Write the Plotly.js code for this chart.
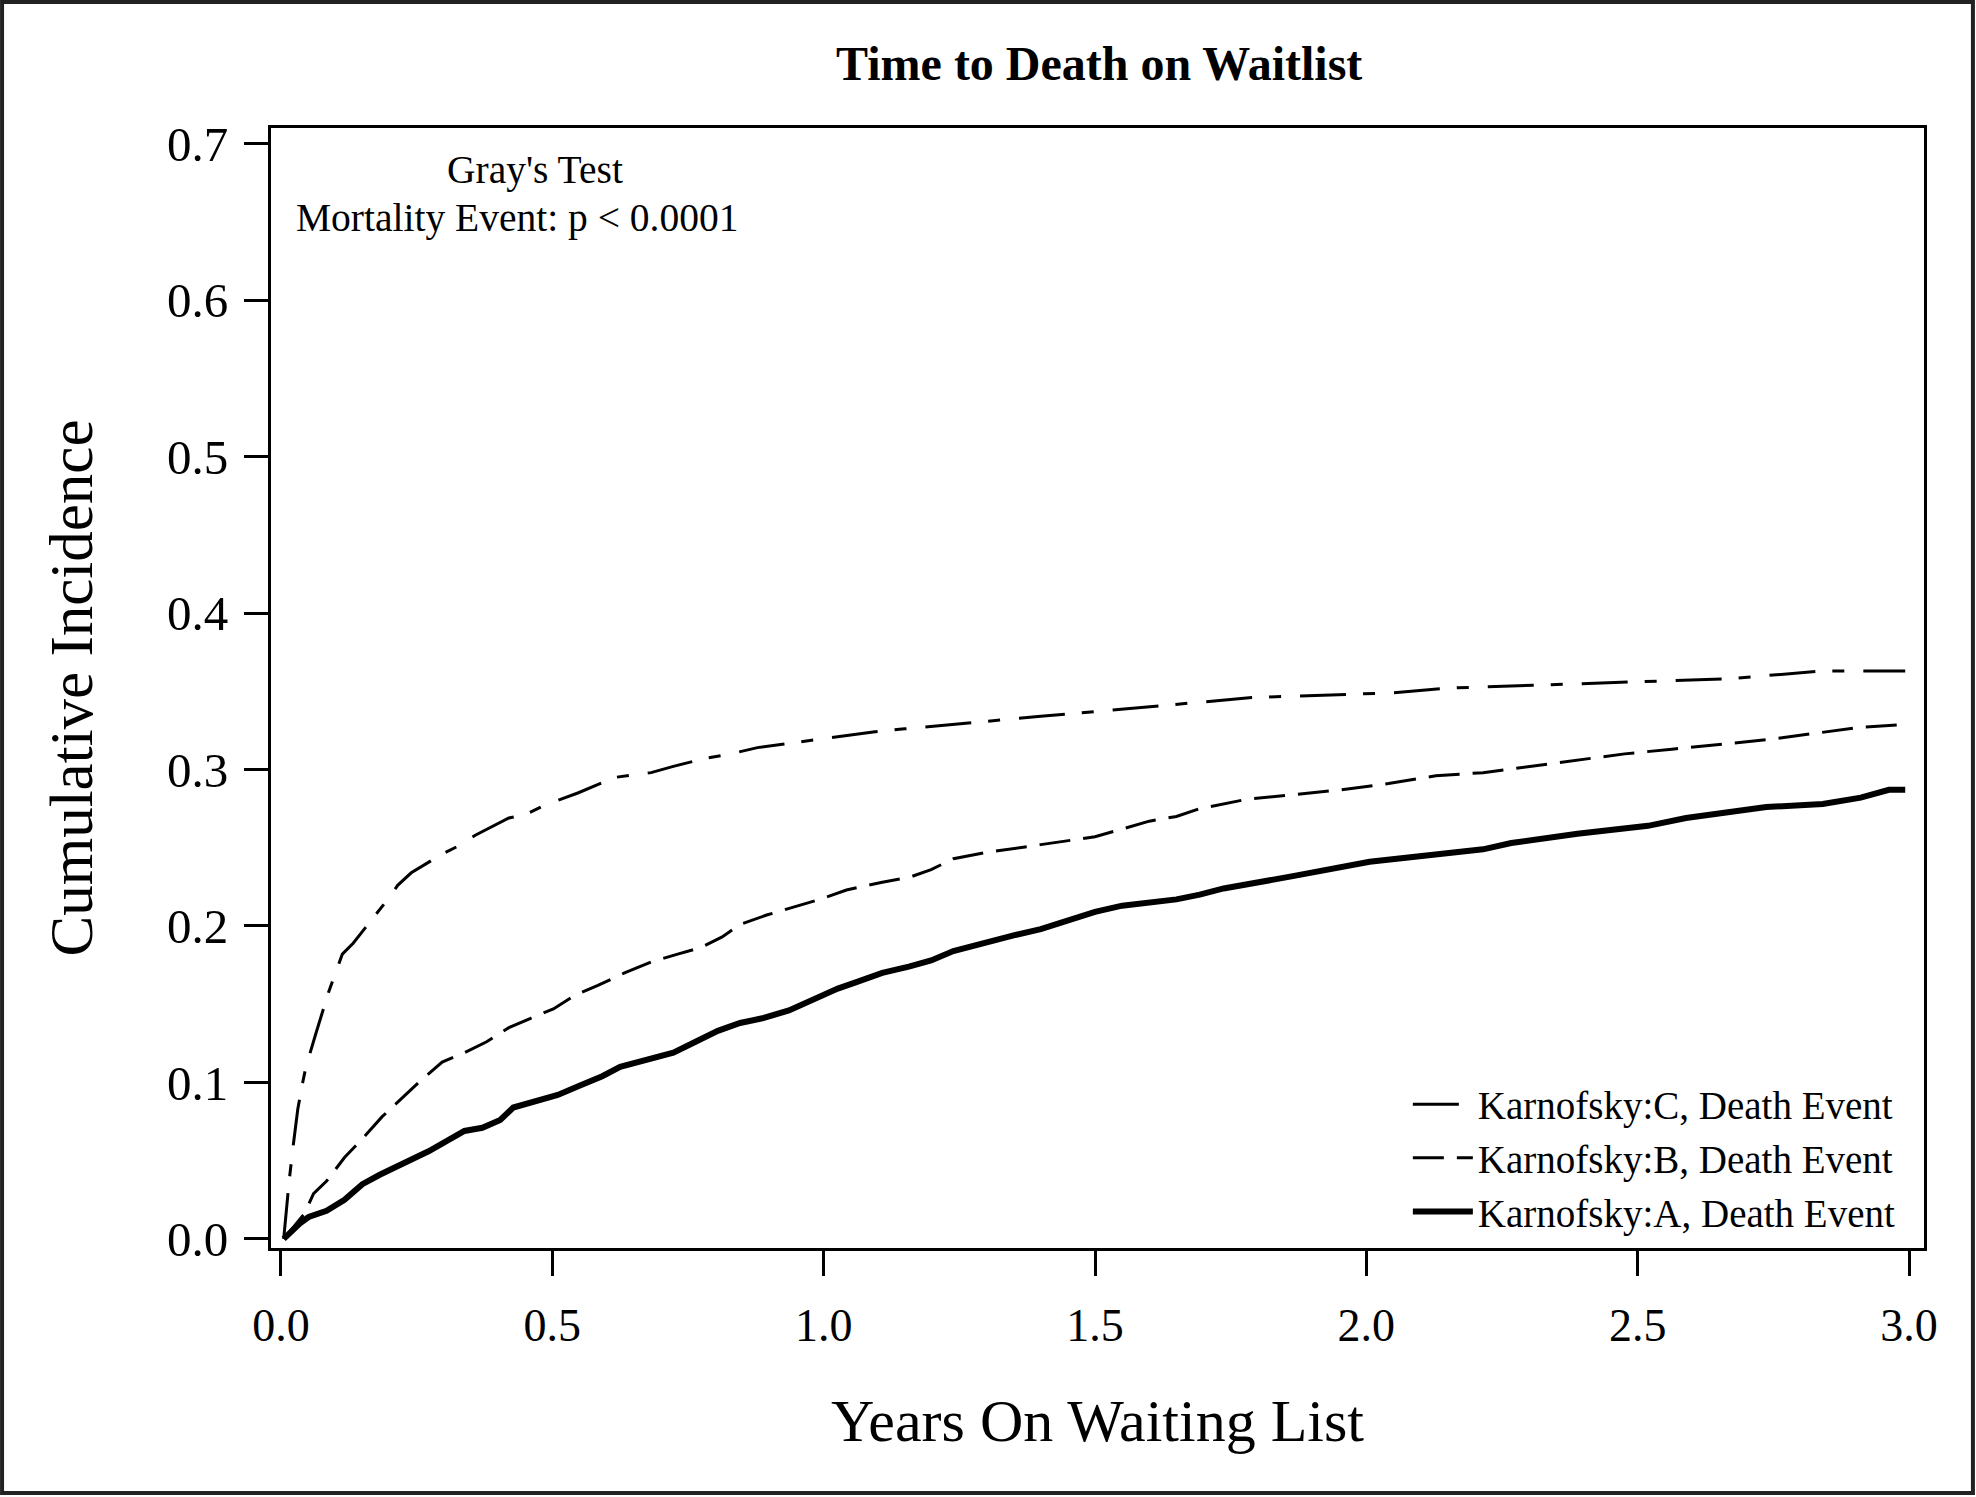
<!DOCTYPE html>
<html>
<head>
<meta charset="utf-8">
<script src="https://cdn.plot.ly/plotly-3.0.1.min.js"></script>
<style>
  body { margin: 0; background: #fff; overflow: hidden; }
  #plot { width: 1976px; height: 1497px; }
</style>
</head>
<body>
<div id="plot"></div>
<script>
// Karnofsky C (dash-dot curve)
var yearsC = [0.005, 0.015, 0.023, 0.031, 0.040, 0.046, 0.064, 0.078, 0.088, 0.113, 0.133, 0.158, 0.199, 0.215, 0.240,
  0.297, 0.326, 0.358, 0.420, 0.449, 0.485, 0.547, 0.580, 0.616, 0.682, 0.723, 0.780, 0.829, 0.878, 0.944, 0.985,
  1.026, 1.091, 1.149, 1.239, 1.30, 1.40, 1.50, 1.60, 1.693, 1.789, 1.963, 2.050, 2.146, 2.302, 2.493, 2.667, 2.841, 2.993];
var incC = [0.000, 0.037, 0.061, 0.083, 0.100, 0.110, 0.131, 0.147, 0.158, 0.182, 0.189, 0.200, 0.218, 0.226, 0.234,
  0.246, 0.251, 0.258, 0.269, 0.271, 0.277, 0.285, 0.290, 0.295, 0.298, 0.302, 0.307, 0.310, 0.314, 0.317, 0.319,
  0.321, 0.324, 0.326, 0.329, 0.331, 0.334, 0.337, 0.340, 0.343, 0.346, 0.348, 0.349, 0.352, 0.354, 0.356, 0.358, 0.363, 0.363];

// Karnofsky B (dashed curve)
var yearsB = [0.005, 0.043, 0.060, 0.084, 0.117, 0.150, 0.186, 0.224, 0.260, 0.297, 0.338, 0.379, 0.420, 0.460, 0.502,
  0.543, 0.584, 0.633, 0.682, 0.731, 0.772, 0.813, 0.846, 0.895, 0.944, 0.993, 1.042, 1.108, 1.157, 1.198, 1.239,
  1.30, 1.40, 1.50, 1.55, 1.60, 1.65, 1.693, 1.780, 1.867, 1.954, 2.041, 2.128, 2.215, 2.302, 2.389, 2.476, 2.563,
  2.650, 2.737, 2.824, 2.911, 2.998];
var incB = [0.000, 0.016, 0.029, 0.037, 0.052, 0.064, 0.078, 0.090, 0.102, 0.113, 0.119, 0.126, 0.135, 0.141, 0.147,
  0.156, 0.162, 0.170, 0.177, 0.182, 0.186, 0.193, 0.201, 0.207, 0.212, 0.217, 0.223, 0.228, 0.231, 0.236, 0.243,
  0.247, 0.252, 0.257, 0.262, 0.267, 0.270, 0.275, 0.281, 0.284, 0.287, 0.291, 0.296, 0.298, 0.302, 0.306, 0.310, 0.313,
  0.316, 0.319, 0.323, 0.327, 0.329];

// Karnofsky A (thick solid curve)
var yearsA = [0.005, 0.019, 0.035, 0.051, 0.084, 0.117, 0.150, 0.182, 0.215, 0.248, 0.272, 0.305, 0.338, 0.371, 0.404,
  0.428, 0.469, 0.510, 0.551, 0.592, 0.625, 0.674, 0.723, 0.764, 0.805, 0.846, 0.887, 0.936, 0.985, 1.026, 1.059,
  1.108, 1.157, 1.198, 1.239, 1.30, 1.35, 1.40, 1.45, 1.50, 1.55, 1.60, 1.65, 1.693, 1.737, 1.867, 2.006, 2.215, 2.267,
  2.389, 2.519, 2.589, 2.737, 2.841, 2.911, 2.963, 2.993];
var incA = [0.000, 0.005, 0.010, 0.014, 0.018, 0.025, 0.035, 0.041, 0.047, 0.052, 0.056, 0.063, 0.069, 0.071, 0.076,
  0.084, 0.088, 0.092, 0.098, 0.104, 0.110, 0.115, 0.119, 0.126, 0.133, 0.138, 0.141, 0.146, 0.154, 0.160, 0.164,
  0.170, 0.174, 0.178, 0.184, 0.190, 0.194, 0.198, 0.203, 0.209, 0.213, 0.215, 0.217, 0.220, 0.224, 0.232, 0.241, 0.249, 0.253,
  0.259, 0.264, 0.269, 0.276, 0.278, 0.282, 0.287, 0.287];

var xTicks = [0, 0.5, 1, 1.5, 2, 2.5, 3];
var yTicks = [0, 0.1, 0.2, 0.3, 0.4, 0.5, 0.6, 0.7];

var serif = "Liberation Serif, Times New Roman, serif";

var traceC = {
  x: yearsC, y: incC, mode: "lines", type: "scatter",
  name: "Karnofsky:C, Death Event",
  line: {color: "black", width: 3, dash: "46px,17px,12px,19px"}
};
var traceB = {
  x: yearsB, y: incB, mode: "lines", type: "scatter",
  name: "Karnofsky:B, Death Event",
  line: {color: "black", width: 3, dash: "31px,13px"}
};
var traceA = {
  x: yearsA, y: incA, mode: "lines", type: "scatter",
  name: "Karnofsky:A, Death Event",
  line: {color: "black", width: 6}
};

var layout = {
  width: 1976, height: 1497,
  margin: {l: 271, r: 52, t: 128, b: 249},
  paper_bgcolor: "white", plot_bgcolor: "white",
  font: {family: serif, color: "black"},
  title: {
    text: "<b>Time to Death on Waitlist</b>",
    font: {family: serif, size: 48, color: "black"},
    x: 0.5563, xanchor: "center", y: 0.958, yanchor: "middle"
  },
  xaxis: {
    range: [-0.0184, 3.0276],
    tickvals: xTicks, tickformat: ".1f",
    ticks: "outside", ticklen: 25, tickwidth: 3, tickcolor: "black",
    showline: true, linewidth: 3, linecolor: "black", mirror: true,
    showgrid: false, zeroline: false,
    tickfont: {family: serif, size: 46},
    ticklabelstandoff: 10,
    title: {text: "Years On Waiting List", font: {family: serif, size: 60}, standoff: 49}
  },
  yaxis: {
    range: [-0.0058, 0.710],
    tickvals: yTicks, tickformat: ".1f",
    ticks: "outside", ticklen: 24, tickwidth: 3, tickcolor: "black",
    showline: true, linewidth: 3, linecolor: "black", mirror: true,
    showgrid: false, zeroline: false,
    tickfont: {family: serif, size: 49},
    ticklabelstandoff: 6,
    title: {text: "Cumulative Incidence", font: {family: serif, size: 61}, standoff: 55}
  },
  showlegend: true,
  legend: {
    x: 0.986, xanchor: "right", y: 0.0033, yanchor: "bottom",
    bgcolor: "rgba(0,0,0,0)", borderwidth: 0,
    font: {family: serif, size: 39, color: "black"},
    itemwidth: 60, traceorder: "normal"
  },
  annotations: [
    {xref: "paper", yref: "paper", x: 0.16, y: 0.9625, xanchor: "center", yanchor: "middle",
     text: "Gray's Test", showarrow: false, font: {family: serif, size: 39.5}},
    {xref: "paper", yref: "paper", x: 0.149, y: 0.9196, xanchor: "center", yanchor: "middle",
     text: "Mortality Event: p &lt; 0.0001", showarrow: false, font: {family: serif, size: 39.5}}
  ],
  shapes: [
    {type: "rect", xref: "paper", yref: "paper", x0: -0.1627, x1: 1.0296, y0: -0.2188, y1: 1.1125,
     line: {color: "#222", width: 4}}
  ]
};

Plotly.newPlot("plot", [traceC, traceB, traceA], layout, {displayModeBar: false, staticPlot: true});
</script>
</body>
</html>
